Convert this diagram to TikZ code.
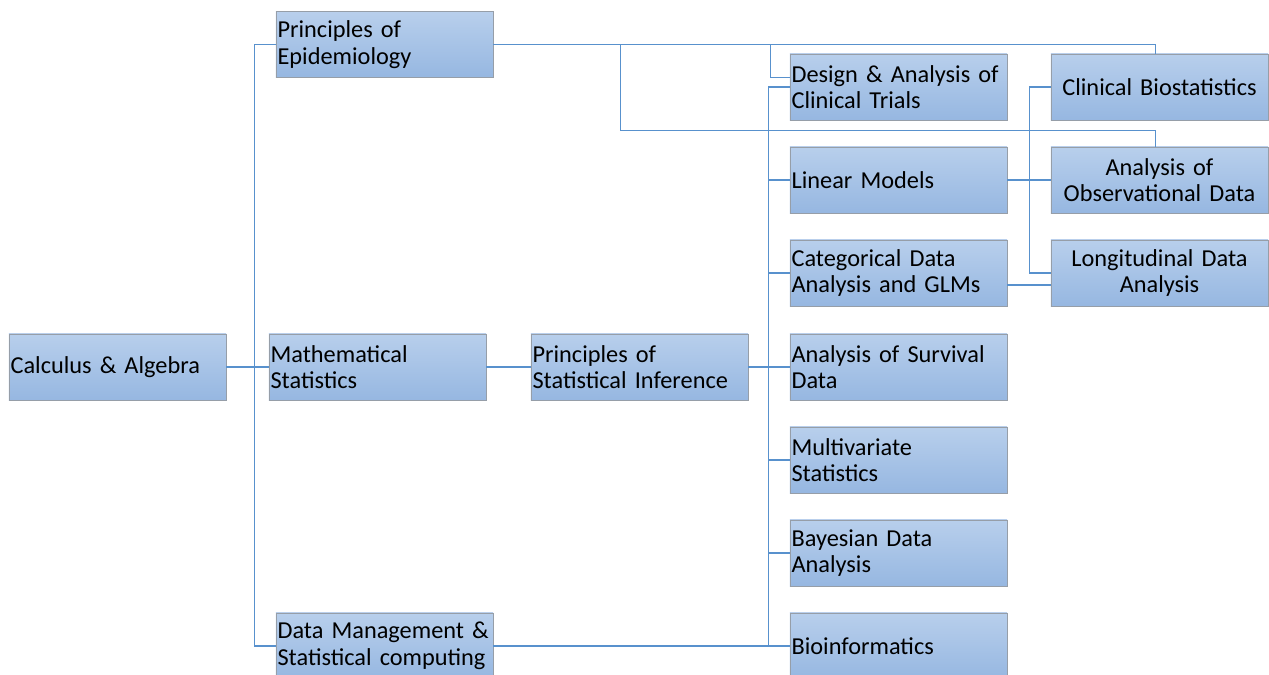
\documentclass[tikz,border=0pt]{standalone}
\usepackage{fontspec}
\setmainfont{Carlito}[WordSpace=0.8]
\usepackage{tikz}
\usetikzlibrary{calc,positioning,shadows}

\definecolor{boxtop}{RGB}{184,207,236}
\definecolor{boxbot}{RGB}{150,183,225}
\definecolor{boxedge}{RGB}{150,158,168}
\definecolor{link}{RGB}{88,145,205}

\tikzset{
  course/.style={draw=boxedge, line width=0.5pt, top color=boxtop, bottom color=boxbot,
    drop shadow={shadow xshift=0.6pt, shadow yshift=-0.6pt, opacity=0.25},
    minimum width=5.425cm, minimum height=1.65cm, text width=5.345cm,
    inner xsep=0.04cm, inner ysep=0pt, align=left,
    font=\fontsize{17.3}{18.9}\selectfont},
  coursec/.style={course, align=center},
  link/.style={draw=link, line width=1pt}
}

\begin{document}
\begin{tikzpicture}[x=0.025cm, y=-0.025cm]
\useasboundingbox (0,0) rectangle (1269,675);
\node[course](calc) at (117.5,367){Calculus \& Algebra};
\node[course](epi) at (384.5,44.5){Principles of\\Epidemiology};
\node[course](math) at (377.5,367){Mathematical\\Statistics};
\node[course](inf) at (639.5,367){Principles of\\Statistical Inference};
\node[course](data) at (384.5,646){Data Management \&\\Statistical computing};
\node[course](design) at (898.5,87){Design \& Analysis of\\Clinical Trials};
\node[course](linear) at (898.5,180){Linear Models};
\node[course](categ) at (898.5,273){Categorical Data\\Analysis and GLMs};
\node[course](surv) at (898.5,367){Analysis of Survival\\Data};
\node[course](multi) at (898.5,460){Multivariate\\Statistics};
\node[course](bayes) at (898.5,553){Bayesian Data\\Analysis};
\node[course](bio) at (898.5,646){Bioinformatics};
\node[coursec](biostat) at (1159.5,87){Clinical Biostatistics};
\node[coursec](obs) at (1159.5,180){Analysis of\\Observational Data};
\node[coursec](long) at (1159.5,273){Longitudinal Data\\Analysis};
\draw[link] (calc) -- (math);
\draw[link] (epi.west) -- ++(-21,0) |- (data.west);
\draw[link] (epi.east) -| ([xshift=-0.1cm]biostat.north);
\draw[link] (epi.east) -| ++(127,86) -| ([xshift=-0.1cm]obs.north);
\draw[link] (epi.east) -| ++(277,33) coordinate (d) -- (d -| design.west);
\draw[link] (math) -- (inf);
\draw[link] (inf) -- (surv);
\draw[link] (design.west) -- ++(-21,0) |- (bio.west);
\foreach \c in {linear,categ,surv,multi,bayes}
  \draw[link] (\c.west) -- ++(-21,0);
\draw[link] (data.east) -- (bio.west);
\draw[link] (linear) -- (obs);
\draw[link] (biostat.west) -- ++(-21,0) |- (long.west);
\draw[link] ([yshift=-0.3cm]categ.east) -- ([yshift=-0.3cm]long.west);
\end{tikzpicture}
\end{document}
